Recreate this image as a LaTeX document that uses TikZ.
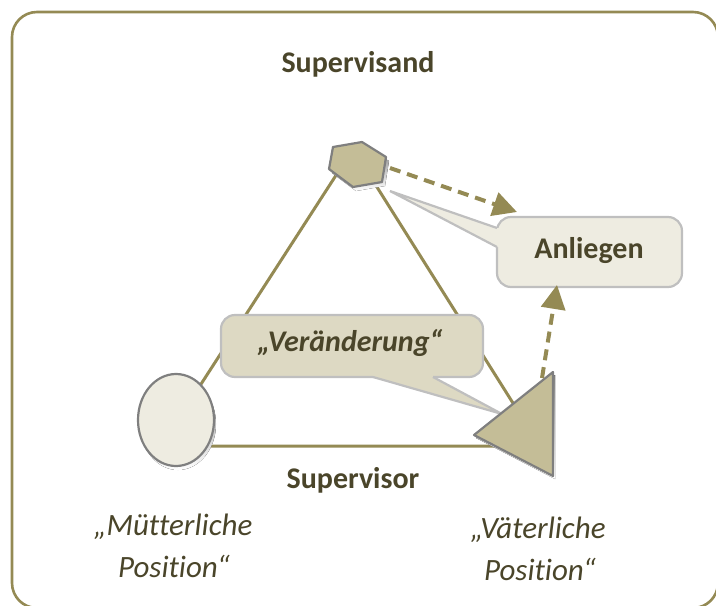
\documentclass[tikz,border=0pt]{standalone}
\usepackage{fontspec}
\setmainfont{Carlito}[Ligatures=NoCommon]
\usetikzlibrary{arrows.meta,shapes.geometric}
\definecolor{olive}{HTML}{948A54}
\definecolor{tan}{HTML}{C4BD97}
\definecolor{paper}{HTML}{EEECE1}
\definecolor{sand}{HTML}{DDD9C3}
\definecolor{rim}{HTML}{BFBFBF}
\definecolor{edgegray}{HTML}{7F7F7F}
\definecolor{shade}{HTML}{4F6228}
\definecolor{ink}{HTML}{4A452A}
\tikzset{
  frame/.style={draw=olive, line width=2.6pt, rounded corners=25pt},
  tri/.style={draw=olive, line width=3pt},
  dasharrow/.style={draw=olive, line width=4pt, dash pattern=on 11pt off 7pt,
     -{Triangle[length=24pt,width=24pt,fill=olive]}},
  shapeline/.style={draw=edgegray, line width=2.2pt, line join=round},
  calloutbox/.style={draw=rim, line width=2.2pt, rounded corners=14pt, inner sep=0pt},
  boldlabel/.style={text=ink, font=\bfseries\fontsize{30}{36}\selectfont, inner sep=0pt},
  itlabel/.style={text=ink, font=\itshape\fontsize{31}{37}\selectfont, inner sep=0pt, anchor=base},
}
\begin{document}
\begin{tikzpicture}[x=1pt,y=-1pt]
\useasboundingbox (0,0) rectangle (716,606);
\draw[frame] (12,12) rectangle (718,608);

% triangle vertices
\coordinate (apex) at (353,149);
\coordinate (bl) at (161,446);
\coordinate (br) at (540,446);
\draw[tri] (apex) -- (bl) -- (br) -- cycle;

% labels
\node[boldlabel, anchor=base] (supervisand) at (358,72) {Supervisand};
\node[boldlabel, anchor=base] (supervisor) at (353,488) {Supervisor};
\node[itlabel] (mut1) at (173,535) {„Mütterliche};
\node[itlabel] (mut2) at (174,577) {Position“};
\node[itlabel] (vat1) at (538,538) {„Väterliche};
\node[itlabel] (vat2) at (540,580) {Position“};

% Veränderung callout
\coordinate (vtip) at (502,414);
\coordinate (vb1) at (373,377);
\coordinate (vb2) at (433,377);
\fill[sand] (vtip) -- (vb1) -- (vb2) -- cycle;
\node[calloutbox, fill=sand, minimum width=262pt, minimum height=62pt] (veraenderung) at (352,346) {};
\fill[sand] (vtip) -- (vb1) -- ([yshift=3pt]vb1) -- ([yshift=3pt]vb2) -- (vb2) -- cycle;
\draw[rim, line width=2.2pt] (vb1) -- (vtip) -- (vb2);
\node[text=ink, font=\bfseries\itshape\fontsize{30}{36}\selectfont, inner sep=0pt, anchor=base] (vtext) at (350,351) {„Veränderung“};

% Anliegen callout
\coordinate (atip) at (390,191);
\coordinate (ab1) at (497,228);
\coordinate (ab2) at (497,247);
\fill[paper] (atip) -- (ab1) -- (ab2) -- cycle;
\node[calloutbox, fill=paper, minimum width=185pt, minimum height=70pt] (anliegen) at (589.5,252) {};
\fill[paper] (atip) -- (ab1) -- ([xshift=3pt]ab1) -- ([xshift=3pt]ab2) -- (ab2) -- cycle;
\draw[rim, line width=2.2pt] (ab1) -- (atip) -- (ab2);
\node[boldlabel, anchor=base] (atext) at (589,258) {Anliegen};

% hexagon (Supervisand)
\begin{scope}[shift={(3,4)}]
\fill[shade] (333,147) -- (362,142) -- (386,157) -- (382,182) -- (353,187) -- (329,169) -- cycle;
\end{scope}
\filldraw[shapeline, fill=tan] (333,147) -- (362,142) -- (386,157) -- (382,182) -- (353,187) -- (329,169) -- cycle;
\coordinate (hexright) at (390,168);

% ellipse (Mütterliche Position)
\fill[shade] (178,424) ellipse [x radius=38, y radius=46];
\node[ellipse, shapeline, fill=paper, minimum width=76pt, minimum height=92pt, inner sep=0pt] (mutter) at (176,420) {};

% triangle (Väterliche Position)
\begin{scope}[shift={(2,3)}]
\fill[shade] (553,372) -- (474,435) -- (553,476) -- cycle;
\end{scope}
\filldraw[shapeline, fill=tan] (553,372) -- (474,435) -- (553,476) -- cycle;
\coordinate (tritop) at (542,378);

% dashed arrows
\coordinate (a1end) at (517,212);
\coordinate (a2end) at (557,285);
\draw[dasharrow] (hexright) -- (a1end);
\draw[dasharrow] (tritop) -- (a2end);
\end{tikzpicture}
\end{document}
